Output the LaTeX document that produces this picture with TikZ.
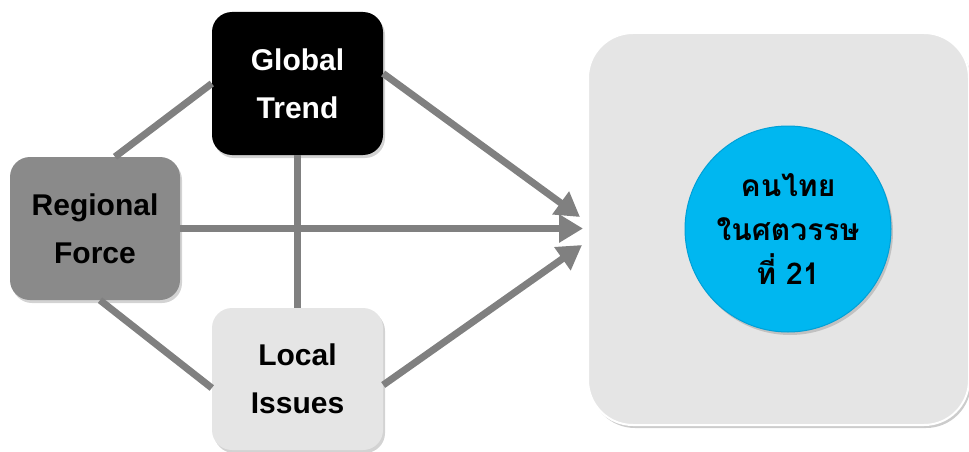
\documentclass[tikz,border=0pt]{standalone}
\usepackage{fontspec}
\setmainfont{Liberation Sans}
\newfontfamily\thaifont[Script=Thai]{Loma}
\usetikzlibrary{arrows.meta,shadows,calc}
\definecolor{linegray}{RGB}{128,128,128}
\definecolor{midgray}{RGB}{138,138,138}
\definecolor{lightbox}{RGB}{229,229,229}
\definecolor{cyanball}{RGB}{0,183,240}
\tikzset{
  box/.style={rounded corners=20pt, minimum width=171pt, minimum height=143pt,
    align=center, font=\fontsize{30}{48}\selectfont\bfseries, inner sep=0pt,
    drop shadow={opacity=0.35, shadow xshift=2pt, shadow yshift=-3pt}},
  conn/.style={draw=linegray, line width=7pt},
  arr/.style={conn, -{Triangle[length=24pt,width=27pt]}},
}
\begin{document}
\begin{tikzpicture}[x=1pt,y=-1pt]
\useasboundingbox (0,0) rectangle (969,452);
% big container
\node[rounded corners=45pt, minimum width=381pt, minimum height=392pt, fill=lightbox,
  draw=white, line width=2pt,
  drop shadow={opacity=0.4, shadow xshift=2pt, shadow yshift=-3pt}] (big) at (778.5,229) {};
\node[circle, minimum size=206pt, fill=cyanball, draw={rgb,255:red,0;green,160;blue,215}, line width=1pt,
  inner sep=0pt, align=center,
  font=\thaifont\fontsize{30}{44}\selectfont\bfseries,
  drop shadow={opacity=0.35, shadow xshift=2pt, shadow yshift=-3pt}] (ball) at (788,229)
  {คนไทย\\ในศตวรรษ\\ที่ 21};
% boxes
\node[box, fill=black, text=white] (gt) at (297.5,83.5) {Global\\Trend};
\node[box, fill=midgray, text=black, minimum width=170pt] (rf) at (95,228.5) {Regional\\Force};
\node[box, fill=lightbox, text=black, minimum height=142pt] (li) at (297.5,379) {Local\\Issues};
% convergence points
\coordinate (ta) at (580,217);
\coordinate (tm) at (583,228.5);
\coordinate (tb) at (582,245);
% connectors
\path[conn] (gt.west) -- ([xshift=20pt]rf.north);
\path[conn] ([xshift=5pt]rf.south) -- ([yshift=-9pt]li.west);
\path[conn] (gt.south) -- (li.north);
\path[arr] (rf.east) -- (tm);
\path[arr] ([yshift=10pt]gt.east) -- (ta);
\path[arr] ([yshift=-6pt]li.east) -- (tb);
\end{tikzpicture}
\end{document}
